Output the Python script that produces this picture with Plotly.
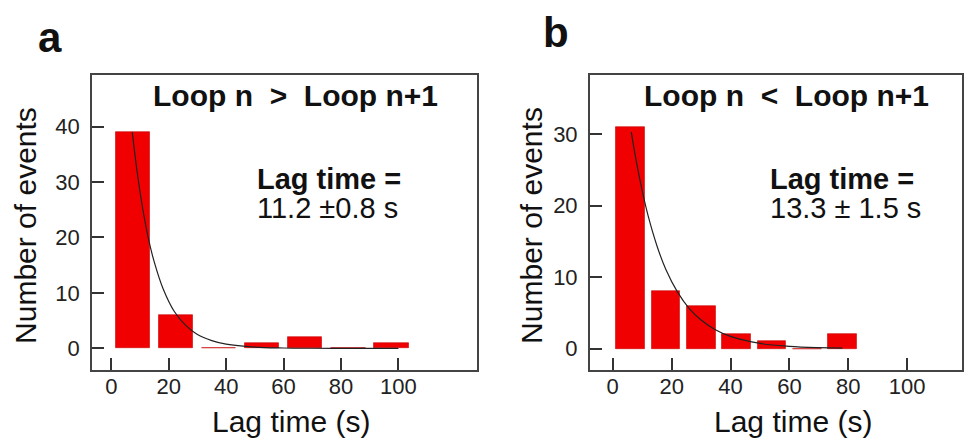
import plotly.graph_objects as go

# ---------------- data ----------------
# Panel a: Loop n > Loop n+1
a_bin_centers = [7.5, 22.5, 37.5, 52.5, 67.5, 82.5, 97.5]
a_counts = [39, 6, 0, 1, 2, 0, 1]
a_fit_x = [7.3, 9, 11, 13, 15, 18, 22, 26, 30, 35, 40, 50, 60, 70, 80, 90, 100]
a_fit_y = [39, 31.8, 25.0, 19.6, 15.5, 10.8, 6.6, 4.1, 2.5, 1.4, 0.76, 0.23, 0.07, 0.02, 0.01, 0.0, 0.0]

# Panel b: Loop n < Loop n+1
b_bin_centers = [6, 18, 30, 42, 54, 66, 78]
b_counts = [31, 8, 6, 2, 1, 0, 2]
b_fit_x = [6.3, 8, 10, 12, 15, 18, 22, 26, 30, 35, 40, 50, 60, 70, 78]
b_fit_y = [30.3, 26.2, 22.1, 18.6, 14.4, 11.1, 7.9, 5.6, 4.0, 2.6, 1.7, 0.72, 0.31, 0.13, 0.07]

x_ticks = [0, 20, 40, 60, 80, 100]
a_y_ticks = [0, 10, 20, 30, 40]
b_y_ticks = [0, 10, 20, 30]

a_title = "Loop n\u00a0\u00a0>\u00a0\u00a0Loop n+1"
b_title = "Loop n\u00a0\u00a0<\u00a0\u00a0Loop n+1"
a_lag_value = "11.2 \u00b10.8 s"
b_lag_value = "13.3 \u00b1 1.5 s"

FONT = "Liberation Sans, Arial, Helvetica, sans-serif"
RED = "#f00000"

fig = go.Figure()
fig.add_trace(go.Bar(x=a_bin_centers, y=a_counts, width=12, marker=dict(color=RED, line=dict(color="#c80000", width=0.6)),
                     xaxis="x", yaxis="y"))
fig.add_trace(go.Scatter(x=a_fit_x, y=a_fit_y, mode="lines", line=dict(color="#222", width=1.2, shape="spline"),
                         xaxis="x", yaxis="y"))
fig.add_trace(go.Bar(x=b_bin_centers, y=b_counts, width=9.7, marker=dict(color=RED, line=dict(color="#c80000", width=0.6)),
                     xaxis="x2", yaxis="y2"))
fig.add_trace(go.Scatter(x=b_fit_x, y=b_fit_y, mode="lines", line=dict(color="#222", width=1.2, shape="spline"),
                         xaxis="x2", yaxis="y2"))

axis_common = dict(showline=True, linecolor="#444", linewidth=1.5, mirror=True, ticks="inside", ticklen=12,
                   tickwidth=1.5, tickcolor="#333", showgrid=False, zeroline=False,
                   tickfont=dict(family=FONT, size=22, color="#222"))

W, H = 964, 439
def px(x):
    return x / W
def py(y):
    return 1 - y / H

fig.update_layout(
    width=W, height=H, margin=dict(l=0, r=0, t=0, b=0),
    paper_bgcolor="white", plot_bgcolor="white", showlegend=False, bargap=0,
    xaxis=dict(domain=[px(92), px(478)], range=[-6.8, 127.4], tickvals=x_ticks, anchor="y",
               ticklabelstandoff=-4, **axis_common),
    yaxis=dict(domain=[py(370), py(75)], range=[-3.9, 49.3], tickvals=a_y_ticks, anchor="x",
               ticklabelstandoff=6, **axis_common),
    xaxis2=dict(domain=[px(591), 1.0], range=[-7.8, 118.6], tickvals=x_ticks, anchor="y2",
                ticklabelstandoff=-4, **axis_common),
    yaxis2=dict(domain=[py(370), py(75)], range=[-3.0, 38.3], tickvals=b_y_ticks, anchor="x2",
                ticklabelstandoff=6, **axis_common),
)

ann = []
def text(x, y, s, size, bold=False, xanchor="left", yanchor="top", angle=0):
    ann.append(dict(x=px(x), y=py(y), xref="paper", yref="paper", text=(f"<b>{s}</b>" if bold else s),
                    showarrow=False, xanchor=xanchor, yanchor=yanchor, textangle=angle,
                    font=dict(family=FONT, size=size, color="#111")))

# panel letters
text(50, 37, "a", 42, bold=True, xanchor="center", yanchor="middle")
text(557, 32, "b", 42, bold=True, xanchor="center", yanchor="middle")
# titles
text(296, 95, a_title, 30, bold=True, xanchor="center", yanchor="middle")
text(788, 95, b_title, 30, bold=True, xanchor="center", yanchor="middle")
# lag time annotations
text(256, 179, "Lag time =", 29, bold=True, yanchor="middle")
text(256, 208, a_lag_value, 29, yanchor="middle")
text(770, 179, "Lag time =", 29, bold=True, yanchor="middle")
text(770, 208, b_lag_value, 29, yanchor="middle")
# axis titles
text(25, 225, "Number of events", 30, xanchor="center", yanchor="middle", angle=-90)
text(532, 225, "Number of events", 30, xanchor="center", yanchor="middle", angle=-90)
text(292, 421, "Lag time (s)", 30, xanchor="center", yanchor="middle")
text(795, 421, "Lag time (s)", 30, xanchor="center", yanchor="middle")

fig.update_layout(annotations=ann)
fig.write_html("out.html", config={"displayModeBar": False},
               post_script="document.body.style.margin='0';document.body.style.overflow='hidden';")
